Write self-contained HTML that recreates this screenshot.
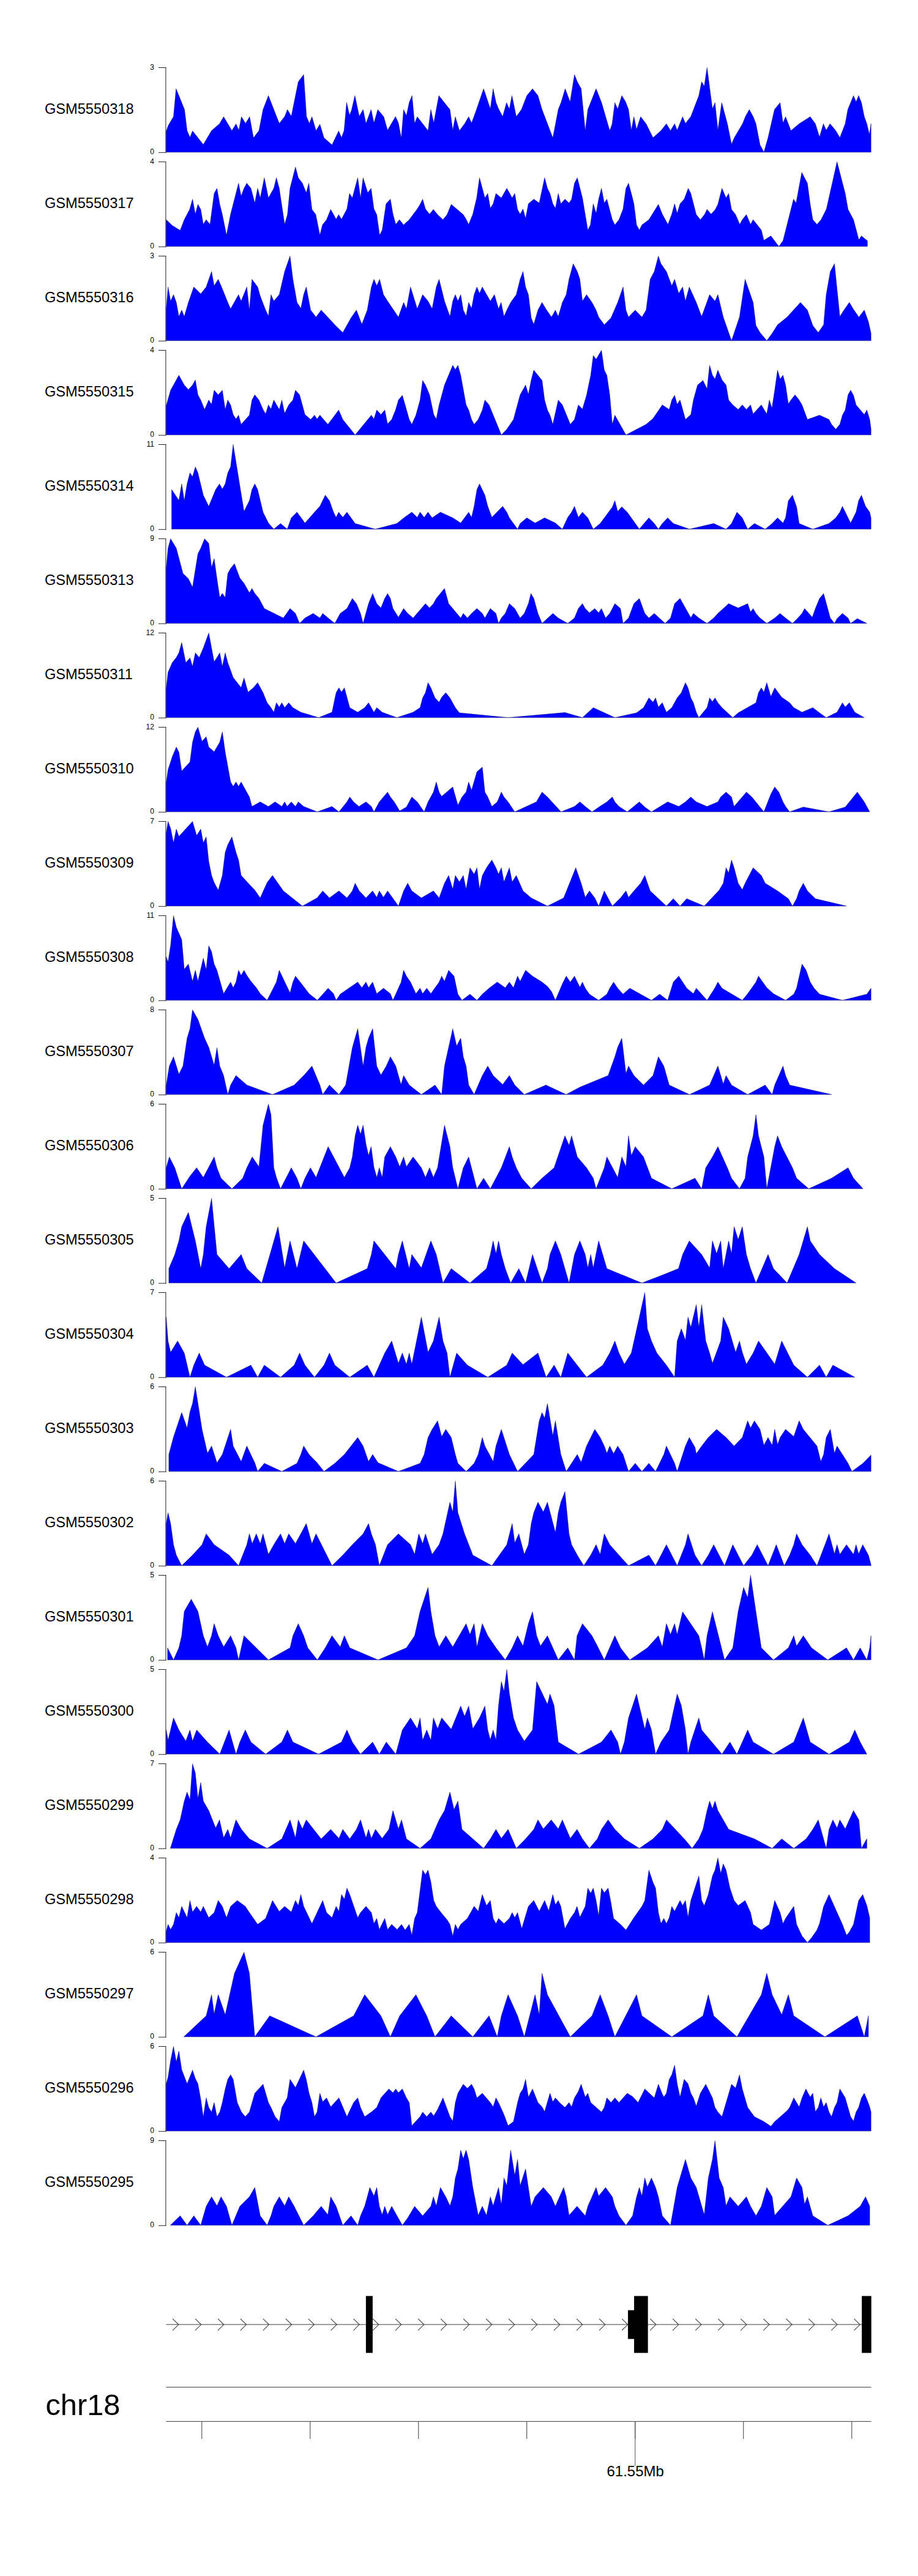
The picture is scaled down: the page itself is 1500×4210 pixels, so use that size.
<!DOCTYPE html><html><head><meta charset="utf-8"><style>html,body{margin:0;padding:0;background:#fff}svg{display:block}text{font-family:"Liberation Sans",sans-serif;fill:#000}</style></head><body>
<svg width="1500" height="4210" viewBox="0 0 1500 4210">
<rect width="1500" height="4210" fill="#fff"/>
<path d="M271.6 248.8 L271.6 214.4 L275.0 205.1 L283.5 190.4 L287.7 145.0 L301.5 179.1 L305.7 213.5 L310.4 224.5 L314.6 213.9 L332.2 236.2 L345.7 213.5 L358.7 202.2 L365.4 190.8 L378.9 213.5 L385.6 202.6 L390.3 212.7 L394.5 190.8 L401.2 201.8 L407.9 190.8 L414.2 225.3 L423.1 213.5 L429.8 179.1 L438.6 156.3 L456.3 201.8 L465.1 190.4 L469.7 179.1 L476.0 190.0 L487.4 133.6 L496.2 121.9 L500.8 190.4 L505.5 201.8 L509.7 190.8 L516.4 213.5 L522.7 203.0 L529.4 225.3 L542.5 236.7 L553.4 213.9 L558.0 224.9 L562.2 213.5 L566.4 167.3 L571.1 188.3 L574.4 179.9 L579.9 156.3 L587.0 190.0 L593.3 179.1 L598.0 201.8 L606.4 179.1 L611.0 200.9 L617.3 179.1 L627.0 190.8 L633.3 212.7 L646.3 190.4 L651.0 200.9 L655.7 225.3 L659.5 179.1 L664.1 189.1 L668.7 167.3 L673.3 156.3 L677.5 201.8 L681.8 190.8 L699.4 213.5 L704.0 179.1 L708.7 200.9 L717.1 156.3 L735.2 179.1 L739.8 212.7 L744.0 190.8 L750.7 213.5 L759.1 202.2 L765.8 190.8 L770.5 200.9 L776.8 184.1 L790.2 145.0 L801.2 177.8 L805.8 145.0 L810.4 167.3 L814.6 177.8 L821.4 190.4 L827.7 167.7 L832.3 178.2 L836.5 156.3 L843.6 190.4 L852.0 179.1 L860.9 156.3 L870.1 145.0 L879.0 156.3 L885.7 179.1 L903.3 225.3 L912.2 179.1 L916.8 167.3 L923.5 145.0 L931.5 166.4 L938.7 121.9 L943.3 133.6 L949.6 145.0 L956.3 213.5 L960.5 179.1 L974.0 145.0 L982.8 167.3 L996.3 213.5 L1000.1 203.0 L1004.7 167.7 L1009.3 178.2 L1016.0 156.3 L1022.3 166.4 L1027.0 179.1 L1031.6 212.7 L1035.8 190.8 L1040.1 211.4 L1046.8 190.8 L1055.7 202.2 L1067.0 224.9 L1080.0 213.5 L1088.9 202.2 L1095.6 213.5 L1102.3 202.2 L1106.5 212.7 L1115.4 190.8 L1120.0 201.8 L1128.8 190.4 L1141.9 156.3 L1146.5 133.6 L1150.7 141.2 L1155.3 110.5 L1164.1 177.8 L1168.3 167.7 L1173.0 212.7 L1179.3 167.7 L1188.5 202.2 L1195.3 235.4 L1199.9 224.9 L1213.3 202.2 L1218.0 190.4 L1224.3 179.1 L1230.6 190.4 L1235.2 202.2 L1241.9 236.7 L1248.2 248.8 L1255.0 224.9 L1265.5 179.1 L1274.7 167.7 L1279.4 200.9 L1283.6 190.8 L1292.4 213.5 L1305.8 202.2 L1323.9 190.8 L1332.3 202.2 L1339.1 224.0 L1345.4 202.2 L1350.0 212.7 L1356.3 202.2 L1365.6 213.5 L1372.3 224.9 L1381.1 202.2 L1385.3 179.1 L1394.6 156.3 L1398.8 166.4 L1403.0 156.3 L1407.6 167.7 L1412.2 190.4 L1416.4 202.2 L1420.6 219.8 L1423.2 202.2 L1423.2 248.8 Z" fill="#0000ff" stroke="#000050" stroke-width="0.45" stroke-linejoin="miter"/>
<path d="M270.9 110.0 V249.8" fill="none" stroke="#000" stroke-width="0.9"/><path d="M258.9 110.5 H271.35 M258.9 249.3 H271.35" fill="none" stroke="#262626" stroke-width="1"/>
<text x="251.9" y="114.0" font-size="12" text-anchor="end">3</text>
<text x="251.9" y="251.9" font-size="12" text-anchor="end">0</text>
<text x="73" y="185.8" font-size="23.6">GSM5550318</text>
<path d="M271.6 402.8 L271.6 359.1 L281.4 368.4 L294.4 376.4 L301.1 359.1 L309.9 342.3 L314.6 325.5 L319.2 349.9 L323.4 333.9 L328.0 342.3 L332.2 366.7 L336.9 359.1 L343.2 366.7 L349.9 316.2 L354.5 307.8 L359.1 333.9 L363.3 350.7 L370.1 384.3 L376.8 349.9 L389.8 299.4 L394.0 320.4 L398.7 307.8 L403.3 299.4 L410.0 307.8 L416.3 331.8 L421.0 307.8 L425.2 323.4 L431.9 290.6 L438.6 323.4 L447.4 307.8 L451.6 290.6 L456.3 307.8 L465.1 366.7 L469.7 350.7 L473.9 307.8 L482.8 272.9 L487.4 290.6 L494.1 299.4 L500.4 315.0 L504.6 299.4 L509.7 342.3 L516.0 350.7 L522.7 384.3 L526.9 367.5 L533.6 359.1 L540.4 342.3 L549.2 358.3 L553.4 350.7 L558.0 358.3 L566.9 341.5 L571.1 316.2 L575.7 323.4 L584.5 290.6 L589.1 323.4 L593.3 290.6 L600.9 315.0 L606.4 307.8 L611.0 341.5 L615.6 350.7 L620.3 384.3 L624.5 375.9 L630.8 333.1 L637.9 325.5 L642.1 349.9 L646.7 366.7 L652.6 359.1 L659.5 367.5 L668.7 359.1 L681.8 341.5 L686.4 333.9 L690.6 325.5 L695.2 341.5 L701.9 349.9 L708.2 342.3 L715.0 350.7 L723.8 359.1 L730.5 350.7 L737.3 333.9 L757.0 350.7 L761.6 358.3 L765.8 366.7 L772.6 349.9 L778.9 323.4 L783.5 290.6 L792.3 323.4 L797.0 316.2 L801.2 340.2 L805.8 333.1 L810.4 316.2 L819.2 323.4 L828.1 307.8 L832.3 315.0 L836.9 323.4 L841.1 316.2 L845.7 342.3 L849.9 349.9 L854.6 341.5 L858.8 357.0 L863.4 333.1 L872.2 325.5 L881.1 331.8 L889.9 290.6 L894.5 307.8 L898.7 316.2 L903.3 333.1 L907.5 340.2 L912.2 316.2 L916.4 333.1 L923.1 325.5 L929.8 331.8 L934.0 325.5 L938.7 299.4 L943.3 290.6 L951.7 323.4 L960.5 375.9 L964.7 367.5 L969.4 333.1 L974.0 348.6 L978.2 325.5 L982.8 307.8 L987.4 331.8 L991.6 325.5 L1000.5 359.1 L1004.7 367.5 L1011.4 359.1 L1018.1 341.5 L1022.8 307.8 L1027.0 299.4 L1031.6 316.2 L1035.8 333.1 L1040.1 367.5 L1044.7 375.9 L1048.9 367.5 L1060.3 359.1 L1075.8 333.9 L1082.2 349.9 L1091.4 366.7 L1097.7 349.9 L1102.3 333.1 L1106.5 348.6 L1111.2 333.1 L1117.9 325.5 L1124.6 307.8 L1128.8 316.2 L1137.7 350.7 L1144.4 359.1 L1151.1 350.7 L1155.3 342.3 L1162.0 349.9 L1168.8 342.3 L1173.0 333.9 L1179.7 307.8 L1186.4 323.4 L1190.6 316.2 L1195.3 342.3 L1202.0 350.7 L1208.7 366.7 L1212.9 359.1 L1219.6 350.7 L1226.4 366.7 L1230.6 359.1 L1244.0 375.9 L1248.2 392.8 L1259.6 385.6 L1272.6 402.8 L1279.4 393.6 L1296.6 325.5 L1300.8 331.8 L1310.1 281.8 L1319.3 299.4 L1323.9 333.9 L1328.1 359.1 L1334.9 366.7 L1341.6 359.1 L1350.4 341.5 L1367.7 264.5 L1381.1 316.2 L1385.7 342.3 L1394.6 359.1 L1403.4 391.9 L1407.6 385.6 L1417.3 393.6 L1417.3 402.8 Z" fill="#0000ff" stroke="#000050" stroke-width="0.45" stroke-linejoin="miter"/>
<path d="M270.9 264.0 V403.8" fill="none" stroke="#000" stroke-width="0.9"/><path d="M258.9 264.5 H271.35 M258.9 403.3 H271.35" fill="none" stroke="#262626" stroke-width="1"/>
<text x="251.9" y="268.0" font-size="12" text-anchor="end">4</text>
<text x="251.9" y="405.9" font-size="12" text-anchor="end">0</text>
<text x="73" y="339.8" font-size="23.6">GSM5550317</text>
<path d="M271.6 556.8 L271.6 505.6 L274.6 469.0 L278.8 492.1 L283.5 481.6 L288.1 494.2 L292.3 517.3 L296.9 506.8 L301.1 517.3 L307.8 494.2 L316.7 469.0 L328.0 480.3 L336.9 469.0 L345.7 443.7 L349.9 466.9 L356.6 456.4 L361.2 466.9 L368.0 483.7 L372.2 494.2 L376.8 504.7 L389.8 481.6 L394.0 492.1 L403.3 469.0 L407.5 506.8 L411.7 456.4 L421.0 469.0 L425.2 483.7 L434.0 506.8 L438.6 516.5 L442.8 481.6 L447.4 492.1 L456.3 481.6 L465.1 443.7 L473.9 418.5 L478.6 456.4 L485.3 494.2 L491.6 503.9 L496.2 481.6 L500.4 469.0 L507.6 506.8 L516.4 518.2 L524.8 506.8 L549.2 532.9 L560.1 543.4 L573.6 519.4 L582.4 506.8 L591.2 529.9 L600.1 506.8 L606.8 469.0 L611.0 456.4 L615.6 466.9 L620.3 456.4 L626.6 481.6 L633.3 492.1 L651.0 518.2 L659.5 494.2 L664.1 504.7 L670.8 469.0 L681.8 504.7 L690.6 481.6 L699.4 492.1 L706.1 504.7 L712.9 469.0 L717.5 456.4 L726.3 492.1 L735.2 517.3 L739.8 492.1 L744.0 481.6 L748.2 492.1 L752.8 481.6 L757.0 506.8 L761.6 516.5 L765.8 494.2 L770.5 503.9 L774.7 481.6 L779.3 469.0 L783.5 479.5 L788.1 469.0 L801.2 492.1 L807.9 481.6 L814.6 504.7 L818.8 494.2 L823.5 517.3 L828.1 506.8 L834.4 494.2 L843.6 481.6 L849.9 456.4 L854.6 443.7 L858.8 469.0 L863.4 481.6 L868.0 519.4 L872.2 529.9 L879.0 506.8 L885.7 494.2 L892.4 505.6 L901.2 518.2 L907.5 506.8 L912.2 517.3 L918.9 494.2 L925.2 481.6 L929.8 456.4 L936.6 431.1 L943.3 443.7 L947.5 456.4 L951.7 492.1 L958.4 481.6 L967.3 494.2 L974.0 506.8 L978.2 518.2 L987.4 530.8 L998.4 519.4 L1009.3 494.2 L1018.1 469.0 L1022.8 506.8 L1027.0 518.2 L1037.9 506.8 L1048.9 518.2 L1055.7 506.8 L1062.4 456.4 L1069.1 443.7 L1075.8 418.5 L1080.0 431.1 L1088.9 443.7 L1097.7 466.9 L1102.3 456.4 L1109.1 479.5 L1115.4 469.0 L1120.0 492.1 L1126.3 469.0 L1137.7 494.2 L1146.5 517.3 L1159.5 481.6 L1168.3 492.1 L1173.0 481.6 L1181.8 518.2 L1195.3 556.8 L1208.3 518.2 L1217.5 456.4 L1230.6 494.2 L1235.2 532.0 L1241.9 543.4 L1252.9 556.8 L1261.7 544.7 L1270.5 530.8 L1286.1 518.2 L1307.9 494.2 L1319.3 506.8 L1328.1 532.0 L1337.0 543.4 L1345.8 530.8 L1350.0 481.6 L1356.7 443.7 L1363.5 431.1 L1372.3 517.3 L1379.0 506.8 L1387.8 494.2 L1394.6 505.6 L1403.4 518.2 L1412.2 506.8 L1419.0 525.7 L1423.2 544.7 L1423.2 556.8 Z" fill="#0000ff" stroke="#000050" stroke-width="0.45" stroke-linejoin="miter"/>
<path d="M270.9 418.0 V557.8" fill="none" stroke="#000" stroke-width="0.9"/><path d="M258.9 418.5 H271.35 M258.9 557.3 H271.35" fill="none" stroke="#262626" stroke-width="1"/>
<text x="251.9" y="422.0" font-size="12" text-anchor="end">3</text>
<text x="251.9" y="559.9" font-size="12" text-anchor="end">0</text>
<text x="73" y="493.8" font-size="23.6">GSM5550316</text>
<path d="M271.6 710.8 L271.6 662.9 L278.8 637.7 L292.3 613.3 L301.1 629.3 L307.8 636.8 L314.6 629.3 L319.2 620.9 L323.4 645.3 L328.0 653.7 L334.3 669.2 L341.1 653.7 L345.7 660.8 L349.9 637.7 L356.6 645.3 L363.3 637.7 L368.0 669.2 L372.2 653.7 L376.8 661.7 L381.0 677.6 L385.6 684.8 L389.8 678.5 L394.0 693.6 L407.5 678.5 L411.7 653.7 L416.3 645.3 L423.1 653.7 L429.8 669.2 L434.0 676.4 L438.6 661.7 L442.8 668.4 L447.4 653.7 L456.3 669.2 L460.5 653.7 L465.1 675.5 L471.8 661.7 L478.6 653.7 L482.8 637.7 L489.5 645.3 L498.3 677.6 L507.6 685.6 L513.9 678.5 L518.1 684.8 L522.7 678.5 L535.7 693.6 L542.5 684.8 L553.4 670.1 L560.1 685.6 L580.3 710.8 L606.8 678.5 L611.0 684.8 L615.6 670.1 L622.4 677.6 L628.7 670.1 L633.3 692.8 L640.0 685.6 L646.3 670.1 L651.0 653.7 L657.4 646.1 L662.0 661.7 L668.7 685.6 L672.9 693.6 L679.6 678.5 L686.4 653.7 L690.6 621.7 L695.2 629.3 L701.9 645.3 L708.7 677.6 L712.9 684.8 L717.5 661.7 L726.3 629.3 L739.8 596.9 L744.0 604.0 L748.2 596.9 L752.8 613.3 L761.6 661.7 L765.8 670.1 L770.5 685.6 L774.7 693.6 L781.4 685.6 L788.1 670.1 L792.3 653.7 L799.1 661.7 L819.2 710.8 L828.1 701.6 L839.0 685.6 L849.9 645.3 L858.8 629.3 L863.4 644.4 L868.0 620.9 L872.2 604.9 L885.7 621.7 L889.9 653.7 L894.5 670.1 L898.7 678.5 L903.3 693.6 L912.2 653.7 L918.9 661.7 L931.9 693.6 L938.7 685.6 L945.0 661.7 L951.7 668.4 L958.4 646.1 L965.2 613.3 L969.4 580.9 L974.0 587.2 L982.8 572.5 L987.4 604.9 L991.6 613.3 L996.3 645.3 L1000.5 693.6 L1004.7 678.5 L1022.8 710.8 L1055.7 693.6 L1067.0 683.9 L1082.2 661.7 L1093.5 669.2 L1097.7 653.7 L1102.3 646.1 L1106.5 660.8 L1111.2 653.7 L1120.0 685.6 L1128.8 677.6 L1133.0 653.7 L1139.8 629.3 L1148.6 621.7 L1155.3 635.6 L1159.5 596.9 L1164.1 613.3 L1168.3 619.6 L1173.0 604.9 L1179.7 620.9 L1186.4 629.3 L1190.6 653.7 L1197.4 661.7 L1206.2 669.2 L1212.9 661.7 L1219.6 669.2 L1226.4 661.7 L1230.6 676.4 L1244.0 661.7 L1252.9 676.4 L1257.1 653.7 L1261.3 667.1 L1265.9 637.7 L1270.5 604.9 L1274.7 619.6 L1279.4 613.3 L1283.6 629.3 L1288.2 660.0 L1292.4 653.7 L1299.1 645.3 L1305.8 653.7 L1310.5 661.7 L1319.3 685.6 L1339.1 678.5 L1354.6 685.6 L1358.8 693.6 L1365.6 701.6 L1372.3 693.6 L1376.5 678.5 L1381.1 670.1 L1385.7 645.3 L1389.9 637.7 L1394.6 646.1 L1398.8 661.7 L1412.2 677.6 L1416.4 670.1 L1421.1 685.6 L1423.2 700.8 L1423.2 710.8 Z" fill="#0000ff" stroke="#000050" stroke-width="0.45" stroke-linejoin="miter"/>
<path d="M270.9 572.0 V711.8" fill="none" stroke="#000" stroke-width="0.9"/><path d="M258.9 572.5 H271.35 M258.9 711.3 H271.35" fill="none" stroke="#262626" stroke-width="1"/>
<text x="251.9" y="576.0" font-size="12" text-anchor="end">4</text>
<text x="251.9" y="713.9" font-size="12" text-anchor="end">0</text>
<text x="73" y="647.8" font-size="23.6">GSM5550315</text>
<path d="M280.5 864.8 L280.5 800.1 L292.3 817.8 L296.9 790.8 L301.1 818.2 L305.7 790.8 L310.4 772.8 L314.6 779.1 L319.2 763.1 L323.4 772.8 L332.2 809.3 L341.1 827.4 L352.4 800.1 L358.7 790.8 L363.3 799.3 L368.0 790.8 L372.2 772.8 L376.8 763.1 L381.0 726.5 L398.7 835.8 L407.5 818.2 L411.7 800.1 L416.3 790.8 L421.0 800.1 L429.8 837.1 L438.6 854.8 L447.4 864.8 L458.4 855.6 L469.3 864.8 L476.0 846.3 L485.3 837.1 L498.3 854.8 L513.9 837.1 L522.7 827.4 L531.5 809.3 L538.3 818.2 L545.0 837.1 L549.2 845.5 L553.4 837.1 L560.1 845.5 L566.9 837.1 L580.3 855.6 L613.1 864.8 L648.4 855.6 L662.0 844.7 L672.9 837.1 L681.8 845.5 L686.4 837.1 L693.1 845.5 L699.4 837.1 L706.1 846.3 L719.6 837.1 L739.8 846.3 L752.8 854.8 L765.8 837.1 L770.5 845.5 L774.7 827.4 L779.3 800.1 L783.5 790.8 L792.3 809.3 L797.0 827.4 L803.7 845.5 L821.4 827.4 L828.1 837.1 L832.3 846.3 L845.7 864.8 L849.9 855.6 L860.9 846.3 L874.3 854.8 L889.9 846.3 L907.5 854.8 L918.9 864.8 L927.7 845.5 L934.0 837.1 L938.7 827.4 L945.0 845.5 L951.7 837.1 L960.5 846.3 L969.4 864.8 L980.7 855.6 L1000.5 828.7 L1004.7 818.2 L1009.3 835.8 L1016.0 828.3 L1024.9 837.1 L1044.7 864.8 L1053.6 853.9 L1060.3 846.3 L1069.1 855.6 L1075.8 864.8 L1082.2 855.6 L1091.0 846.3 L1100.2 855.6 L1126.7 864.8 L1166.2 855.6 L1186.4 864.8 L1195.3 855.6 L1204.1 837.1 L1212.9 846.3 L1221.7 864.8 L1232.7 855.6 L1250.3 864.8 L1261.7 855.6 L1270.5 846.3 L1279.4 854.8 L1283.6 846.3 L1288.2 818.2 L1294.9 809.3 L1301.6 828.3 L1305.8 855.6 L1328.1 864.8 L1354.6 855.6 L1365.6 846.3 L1372.3 837.1 L1376.5 827.4 L1389.9 854.8 L1398.8 837.1 L1403.0 818.2 L1407.6 809.3 L1414.3 827.4 L1421.1 837.1 L1423.2 846.3 L1423.2 864.8 Z" fill="#0000ff" stroke="#000050" stroke-width="0.45" stroke-linejoin="miter"/>
<path d="M270.9 726.0 V865.8" fill="none" stroke="#000" stroke-width="0.9"/><path d="M258.9 726.5 H271.35 M258.9 865.3 H271.35" fill="none" stroke="#262626" stroke-width="1"/>
<text x="251.9" y="730.0" font-size="12" text-anchor="end">11</text>
<text x="251.9" y="867.9" font-size="12" text-anchor="end">0</text>
<text x="73" y="801.8" font-size="23.6">GSM5550314</text>
<path d="M271.6 1018.8 L271.6 928.9 L274.6 896.1 L278.8 880.5 L288.1 896.1 L299.0 937.3 L307.8 945.7 L314.6 959.6 L323.4 904.9 L328.0 896.1 L334.3 880.5 L341.1 888.1 L345.7 927.6 L349.9 912.9 L354.5 945.7 L359.1 976.4 L363.3 969.7 L368.0 976.4 L372.2 937.3 L376.8 928.9 L383.1 921.3 L391.9 944.8 L398.7 953.3 L407.5 968.8 L411.7 961.7 L416.3 969.7 L423.1 978.1 L431.9 994.5 L463.0 1010.0 L473.9 994.5 L482.8 1002.5 L489.5 1018.8 L498.3 1010.0 L511.8 1002.5 L522.7 1010.0 L527.3 1002.5 L536.2 1010.0 L547.1 1018.8 L555.9 1002.5 L566.9 994.5 L575.7 978.1 L582.4 986.5 L589.1 1002.5 L593.3 1018.8 L602.2 986.5 L608.9 970.1 L615.6 986.5 L622.4 993.6 L628.7 978.1 L633.3 970.1 L637.9 978.1 L642.1 994.5 L651.0 1008.8 L659.5 994.5 L666.2 1002.5 L675.0 1010.0 L695.2 986.5 L701.9 993.6 L708.2 986.5 L712.9 978.1 L726.3 961.7 L733.1 986.5 L752.8 1010.0 L757.0 1002.5 L763.7 1010.0 L770.5 1002.5 L779.3 994.5 L788.1 1002.5 L792.3 1010.0 L801.2 994.5 L810.4 1002.5 L814.6 1018.8 L819.2 1010.0 L825.6 1002.5 L832.3 986.5 L841.1 994.5 L849.9 1010.0 L856.7 1002.5 L863.4 986.5 L867.6 970.1 L872.2 978.1 L879.0 1002.5 L885.7 1018.8 L903.3 1002.5 L912.2 1010.0 L927.7 1018.8 L938.7 1010.0 L945.0 994.5 L951.7 986.5 L956.3 994.5 L963.1 1001.6 L971.9 994.5 L978.2 1001.6 L982.8 994.5 L989.5 1010.0 L996.3 1002.5 L1004.7 986.5 L1013.9 994.5 L1018.1 1018.8 L1027.0 1010.0 L1035.8 986.5 L1044.7 978.1 L1053.6 1002.5 L1060.3 1010.0 L1069.1 1002.5 L1086.8 1018.8 L1095.6 1010.0 L1102.3 986.5 L1111.2 978.1 L1128.8 1009.6 L1133.0 1002.5 L1141.9 1010.0 L1155.3 1018.8 L1166.2 1010.0 L1173.0 1002.5 L1190.6 986.5 L1206.2 993.6 L1221.7 986.5 L1226.4 1000.3 L1230.6 994.5 L1235.2 1002.5 L1241.9 1010.0 L1252.9 1018.8 L1265.9 1010.0 L1274.7 1002.5 L1283.6 1010.0 L1294.9 1018.8 L1303.7 1010.0 L1310.5 1002.5 L1314.7 994.5 L1327.3 1008.8 L1332.3 994.5 L1339.1 978.1 L1345.8 970.1 L1356.7 1010.0 L1363.5 1018.8 L1367.7 1010.9 L1376.5 1002.5 L1385.7 1010.0 L1389.9 1018.8 L1400.9 1010.9 L1416.4 1018.8 L1416.4 1018.8 Z" fill="#0000ff" stroke="#000050" stroke-width="0.45" stroke-linejoin="miter"/>
<path d="M270.9 880.0 V1019.8" fill="none" stroke="#000" stroke-width="0.9"/><path d="M258.9 880.5 H271.35 M258.9 1019.3 H271.35" fill="none" stroke="#262626" stroke-width="1"/>
<text x="251.9" y="884.0" font-size="12" text-anchor="end">9</text>
<text x="251.9" y="1021.9" font-size="12" text-anchor="end">0</text>
<text x="73" y="955.8" font-size="23.6">GSM5550313</text>
<path d="M271.6 1172.8 L271.6 1124.9 L274.6 1098.8 L281.4 1082.9 L288.1 1074.5 L292.3 1066.9 L296.9 1050.1 L303.6 1082.9 L310.4 1075.3 L314.6 1089.2 L319.2 1066.9 L325.5 1074.5 L332.2 1058.9 L341.1 1034.5 L349.9 1081.6 L354.5 1074.5 L359.1 1066.9 L363.3 1089.2 L368.0 1066.9 L372.2 1082.9 L376.8 1095.5 L381.0 1107.3 L394.0 1123.7 L398.7 1108.1 L405.4 1131.2 L414.2 1123.7 L421.0 1115.7 L429.8 1132.1 L436.5 1148.5 L442.8 1156.5 L447.4 1164.0 L451.6 1148.5 L456.3 1155.6 L460.5 1148.5 L465.1 1156.5 L471.8 1148.5 L478.6 1156.5 L491.6 1164.0 L520.6 1172.8 L542.5 1164.0 L549.2 1132.1 L553.8 1124.1 L558.0 1131.2 L562.7 1124.1 L571.5 1156.5 L584.5 1164.0 L595.9 1156.5 L602.2 1148.5 L611.0 1164.0 L615.6 1156.5 L624.5 1164.0 L648.4 1172.8 L675.0 1164.0 L686.4 1156.5 L690.6 1140.5 L695.2 1132.1 L699.4 1115.7 L704.0 1124.1 L710.8 1140.5 L717.5 1147.6 L721.7 1139.6 L728.4 1132.1 L735.2 1140.5 L744.0 1156.5 L750.7 1164.9 L830.2 1172.8 L923.1 1164.4 L951.7 1172.8 L969.4 1156.5 L1004.7 1172.8 L1040.1 1164.9 L1051.5 1156.5 L1060.3 1140.5 L1067.0 1147.6 L1071.2 1140.5 L1075.8 1155.6 L1082.2 1148.5 L1088.9 1164.0 L1097.7 1156.5 L1106.5 1140.5 L1113.3 1132.1 L1120.0 1115.7 L1124.2 1124.1 L1128.8 1140.5 L1133.0 1148.5 L1137.7 1164.0 L1141.9 1172.8 L1155.3 1156.5 L1159.5 1140.5 L1164.1 1146.8 L1168.3 1140.5 L1173.0 1148.5 L1179.7 1156.5 L1197.4 1172.8 L1206.2 1164.9 L1235.2 1148.5 L1239.4 1132.1 L1244.0 1124.1 L1248.2 1131.2 L1252.9 1115.7 L1259.6 1138.4 L1265.9 1124.1 L1277.3 1139.6 L1290.3 1148.5 L1297.0 1156.5 L1310.5 1164.0 L1328.1 1156.5 L1339.1 1164.9 L1350.0 1172.8 L1367.7 1164.0 L1376.5 1148.5 L1381.1 1155.6 L1387.8 1148.5 L1396.7 1164.0 L1412.2 1172.8 L1412.2 1172.8 Z" fill="#0000ff" stroke="#000050" stroke-width="0.45" stroke-linejoin="miter"/>
<path d="M270.9 1034.0 V1173.8" fill="none" stroke="#000" stroke-width="0.9"/><path d="M258.9 1034.5 H271.35 M258.9 1173.3 H271.35" fill="none" stroke="#262626" stroke-width="1"/>
<text x="251.9" y="1038.0" font-size="12" text-anchor="end">12</text>
<text x="251.9" y="1175.9" font-size="12" text-anchor="end">0</text>
<text x="73" y="1109.8" font-size="23.6">GSM5550311</text>
<path d="M271.6 1326.8 L271.6 1278.9 L274.6 1257.9 L281.4 1236.9 L288.1 1220.9 L292.3 1229.3 L296.9 1260.0 L310.4 1245.3 L314.6 1212.9 L319.2 1196.1 L323.4 1188.5 L330.1 1211.6 L336.9 1204.1 L341.1 1220.9 L349.9 1228.5 L359.1 1212.9 L363.3 1196.1 L368.0 1229.3 L376.8 1277.7 L381.0 1285.2 L385.6 1278.1 L389.8 1285.2 L394.0 1278.1 L407.5 1302.5 L411.7 1318.0 L425.2 1310.5 L438.6 1318.0 L449.5 1310.5 L460.5 1318.0 L465.1 1310.5 L469.3 1318.0 L476.0 1310.5 L482.8 1318.0 L487.4 1310.5 L496.2 1318.0 L518.5 1326.8 L542.5 1318.0 L553.8 1326.8 L566.9 1310.5 L571.5 1302.5 L577.8 1310.5 L586.6 1318.0 L598.0 1310.5 L606.8 1318.0 L611.0 1326.8 L619.8 1310.5 L633.3 1294.5 L637.9 1302.5 L644.2 1310.5 L653.1 1325.2 L664.1 1318.9 L672.9 1302.5 L681.8 1310.5 L693.1 1326.8 L699.4 1310.5 L708.2 1294.5 L712.9 1278.1 L717.5 1294.5 L721.7 1301.6 L739.8 1286.1 L748.2 1315.9 L754.9 1302.5 L761.6 1294.5 L765.8 1278.1 L770.5 1291.5 L779.3 1261.3 L788.1 1253.7 L792.3 1294.5 L797.0 1302.5 L803.7 1318.0 L812.5 1310.5 L819.2 1294.5 L823.5 1302.5 L830.2 1310.5 L841.1 1326.8 L876.4 1310.5 L885.7 1294.5 L894.5 1302.5 L916.8 1326.8 L938.7 1318.0 L947.5 1310.5 L956.3 1318.0 L967.3 1326.8 L980.7 1317.6 L991.6 1310.5 L1000.5 1302.5 L1004.7 1310.5 L1011.4 1318.0 L1024.9 1326.8 L1044.7 1310.5 L1053.6 1318.9 L1064.5 1326.8 L1091.0 1310.5 L1109.1 1318.0 L1120.0 1310.5 L1128.8 1302.5 L1137.7 1310.5 L1155.3 1318.0 L1173.0 1310.5 L1177.6 1302.5 L1186.4 1294.5 L1195.3 1302.5 L1199.5 1318.0 L1219.6 1294.5 L1228.5 1302.5 L1248.2 1326.8 L1259.6 1297.8 L1265.9 1286.1 L1272.6 1294.5 L1279.4 1310.5 L1283.6 1318.0 L1290.3 1326.8 L1312.6 1318.9 L1354.6 1326.8 L1381.1 1318.9 L1400.9 1294.5 L1412.2 1310.5 L1421.1 1326.8 L1421.1 1326.8 Z" fill="#0000ff" stroke="#000050" stroke-width="0.45" stroke-linejoin="miter"/>
<path d="M270.9 1188.0 V1327.8" fill="none" stroke="#000" stroke-width="0.9"/><path d="M258.9 1188.5 H271.35 M258.9 1327.3 H271.35" fill="none" stroke="#262626" stroke-width="1"/>
<text x="251.9" y="1192.0" font-size="12" text-anchor="end">12</text>
<text x="251.9" y="1329.9" font-size="12" text-anchor="end">0</text>
<text x="73" y="1263.8" font-size="23.6">GSM5550310</text>
<path d="M271.6 1480.8 L271.6 1361.4 L274.6 1342.5 L278.8 1353.9 L283.5 1377.4 L288.1 1355.1 L292.3 1366.9 L314.6 1342.5 L321.3 1365.6 L328.0 1355.1 L332.2 1377.4 L336.9 1367.7 L341.1 1407.7 L345.7 1430.8 L349.9 1442.2 L356.6 1454.8 L363.3 1430.8 L368.0 1393.0 L372.2 1380.4 L378.9 1367.7 L385.6 1393.0 L389.8 1405.6 L394.0 1430.8 L416.3 1454.8 L425.2 1467.4 L436.5 1442.2 L445.3 1430.8 L463.0 1456.0 L494.1 1480.8 L518.1 1467.4 L527.3 1456.0 L538.3 1467.4 L553.8 1456.0 L566.9 1467.4 L575.7 1456.0 L580.3 1443.4 L587.0 1456.0 L598.0 1467.4 L608.9 1456.0 L615.6 1466.6 L619.8 1456.0 L626.6 1466.6 L633.3 1456.0 L651.0 1480.8 L659.5 1456.0 L666.2 1443.4 L672.9 1456.0 L688.5 1467.4 L708.2 1456.0 L717.5 1467.4 L726.3 1443.4 L733.1 1430.8 L739.8 1453.1 L744.0 1430.8 L750.7 1441.3 L757.0 1430.8 L761.6 1453.1 L767.9 1418.2 L774.7 1428.7 L779.3 1418.2 L783.5 1453.1 L788.1 1430.8 L794.9 1418.2 L803.7 1405.6 L810.4 1418.2 L814.6 1428.7 L819.2 1418.2 L823.5 1441.3 L832.3 1418.2 L836.9 1441.3 L843.6 1430.8 L854.6 1456.0 L868.0 1467.4 L894.5 1480.8 L921.0 1467.4 L940.8 1418.2 L949.6 1443.4 L956.3 1466.6 L963.1 1456.0 L971.9 1467.4 L978.2 1480.8 L987.4 1456.0 L1000.5 1480.8 L1013.9 1467.4 L1022.8 1456.0 L1027.0 1466.6 L1035.8 1456.0 L1046.8 1443.4 L1053.6 1430.8 L1062.4 1456.0 L1088.9 1480.8 L1100.2 1468.7 L1111.2 1480.8 L1122.1 1468.7 L1150.7 1480.8 L1175.1 1454.8 L1181.8 1443.4 L1186.4 1418.2 L1190.6 1426.6 L1195.3 1405.6 L1199.5 1418.2 L1206.2 1443.4 L1212.9 1453.9 L1217.5 1443.4 L1230.6 1418.2 L1244.0 1430.8 L1250.3 1443.4 L1270.5 1456.0 L1288.2 1468.7 L1294.9 1480.8 L1301.6 1468.7 L1305.8 1456.0 L1312.6 1443.4 L1319.3 1456.0 L1332.3 1468.7 L1383.2 1480.8 L1383.2 1480.8 Z" fill="#0000ff" stroke="#000050" stroke-width="0.45" stroke-linejoin="miter"/>
<path d="M270.9 1342.0 V1481.8" fill="none" stroke="#000" stroke-width="0.9"/><path d="M258.9 1342.5 H271.35 M258.9 1481.3 H271.35" fill="none" stroke="#262626" stroke-width="1"/>
<text x="251.9" y="1346.0" font-size="12" text-anchor="end">7</text>
<text x="251.9" y="1483.9" font-size="12" text-anchor="end">0</text>
<text x="73" y="1417.8" font-size="23.6">GSM5550309</text>
<path d="M271.6 1634.8 L271.6 1563.8 L274.6 1572.2 L278.8 1544.9 L283.5 1496.5 L288.1 1515.4 L296.9 1535.6 L301.1 1584.0 L307.8 1575.6 L314.6 1603.7 L319.2 1585.7 L323.4 1603.7 L332.2 1565.9 L336.9 1584.8 L341.1 1545.7 L345.7 1555.4 L349.9 1575.6 L354.5 1585.7 L365.4 1623.9 L376.8 1605.0 L381.0 1614.2 L385.6 1605.0 L389.8 1585.7 L394.0 1594.1 L398.7 1585.7 L403.3 1594.1 L410.0 1603.7 L418.8 1614.2 L425.2 1623.9 L436.5 1634.8 L451.6 1605.0 L456.3 1585.7 L473.9 1622.7 L478.6 1605.0 L482.8 1595.3 L489.5 1603.7 L498.3 1615.1 L505.0 1623.9 L518.5 1634.8 L536.2 1615.1 L545.0 1623.9 L549.2 1634.8 L555.9 1624.8 L584.5 1605.0 L591.2 1614.2 L598.0 1605.0 L602.2 1614.2 L608.9 1605.0 L615.6 1623.9 L626.6 1615.1 L637.9 1623.9 L642.1 1634.8 L655.3 1605.4 L659.5 1585.7 L664.1 1595.3 L670.8 1605.0 L679.6 1623.9 L686.4 1615.1 L690.6 1623.9 L697.3 1615.1 L704.0 1623.9 L717.5 1605.0 L721.7 1595.3 L726.3 1603.7 L733.1 1585.7 L741.9 1595.3 L748.2 1624.8 L754.9 1634.8 L767.9 1624.8 L779.3 1634.8 L788.1 1624.8 L799.1 1615.1 L812.5 1605.0 L825.6 1614.2 L832.3 1605.0 L839.0 1614.2 L845.7 1595.3 L849.9 1603.7 L858.8 1585.7 L870.1 1595.3 L885.7 1605.0 L894.5 1612.1 L901.2 1620.6 L907.5 1634.8 L918.9 1607.9 L925.2 1595.3 L931.9 1605.0 L938.7 1595.3 L947.5 1613.4 L951.7 1605.0 L956.3 1615.1 L963.1 1624.8 L978.2 1634.8 L991.6 1624.8 L996.3 1615.1 L1002.6 1605.0 L1009.3 1615.1 L1018.1 1624.8 L1029.1 1615.1 L1064.5 1634.8 L1077.9 1624.8 L1091.0 1634.8 L1100.2 1605.0 L1109.1 1595.3 L1122.1 1615.1 L1133.0 1623.9 L1137.7 1615.1 L1155.3 1634.8 L1168.3 1614.2 L1173.0 1605.0 L1179.7 1615.1 L1212.9 1634.8 L1221.7 1623.9 L1235.2 1605.0 L1239.4 1595.3 L1252.9 1614.2 L1263.8 1623.9 L1283.6 1634.8 L1297.0 1624.8 L1301.6 1615.1 L1310.5 1575.6 L1317.2 1585.7 L1323.9 1605.0 L1330.2 1615.1 L1339.1 1624.8 L1376.5 1634.8 L1416.4 1624.8 L1423.2 1615.1 L1423.2 1634.8 Z" fill="#0000ff" stroke="#000050" stroke-width="0.45" stroke-linejoin="miter"/>
<path d="M270.9 1496.0 V1635.8" fill="none" stroke="#000" stroke-width="0.9"/><path d="M258.9 1496.5 H271.35 M258.9 1635.3 H271.35" fill="none" stroke="#262626" stroke-width="1"/>
<text x="251.9" y="1500.0" font-size="12" text-anchor="end">11</text>
<text x="251.9" y="1637.9" font-size="12" text-anchor="end">0</text>
<text x="73" y="1571.8" font-size="23.6">GSM5550308</text>
<path d="M271.6 1788.8 L271.6 1773.7 L276.7 1742.2 L283.5 1727.0 L292.3 1755.6 L299.0 1742.2 L305.7 1696.8 L310.4 1681.2 L314.6 1650.5 L323.4 1666.1 L334.3 1696.8 L341.1 1711.5 L349.9 1740.9 L354.5 1712.3 L359.1 1742.2 L365.4 1757.7 L372.2 1788.8 L376.8 1773.3 L385.6 1757.7 L403.3 1773.3 L445.3 1788.8 L480.7 1773.3 L498.3 1755.6 L509.7 1742.2 L522.7 1773.3 L527.3 1788.8 L538.3 1773.3 L553.8 1788.8 L564.8 1773.3 L575.7 1712.3 L584.5 1681.2 L593.3 1742.2 L598.0 1711.5 L602.2 1696.8 L608.9 1681.2 L615.6 1742.2 L622.4 1756.9 L631.2 1742.2 L637.9 1727.0 L646.7 1742.2 L651.0 1757.7 L655.3 1772.5 L659.5 1757.7 L668.7 1773.3 L688.5 1788.8 L710.8 1773.3 L721.7 1788.8 L726.3 1742.2 L739.8 1681.2 L746.1 1709.4 L752.8 1696.8 L757.0 1727.0 L761.6 1742.2 L765.8 1773.3 L774.7 1788.8 L788.1 1757.7 L797.0 1742.2 L805.8 1757.7 L821.4 1772.5 L832.3 1757.7 L841.1 1773.3 L856.7 1788.8 L892.0 1773.3 L925.2 1788.8 L947.5 1776.7 L993.7 1757.7 L1004.7 1727.0 L1009.3 1711.5 L1016.0 1696.8 L1022.8 1754.4 L1027.0 1742.2 L1035.8 1757.7 L1051.5 1773.3 L1067.0 1757.7 L1075.8 1727.0 L1084.7 1742.2 L1093.5 1773.3 L1126.7 1788.8 L1159.5 1773.3 L1173.0 1742.2 L1181.8 1771.6 L1186.4 1757.7 L1195.3 1773.3 L1221.7 1788.8 L1250.3 1773.3 L1261.7 1788.8 L1265.9 1773.3 L1279.4 1742.2 L1283.6 1757.7 L1290.3 1773.3 L1358.8 1788.8 L1358.8 1788.8 Z" fill="#0000ff" stroke="#000050" stroke-width="0.45" stroke-linejoin="miter"/>
<path d="M270.9 1650.0 V1789.8" fill="none" stroke="#000" stroke-width="0.9"/><path d="M258.9 1650.5 H271.35 M258.9 1789.3 H271.35" fill="none" stroke="#262626" stroke-width="1"/>
<text x="251.9" y="1654.0" font-size="12" text-anchor="end">8</text>
<text x="251.9" y="1791.9" font-size="12" text-anchor="end">0</text>
<text x="73" y="1725.8" font-size="23.6">GSM5550307</text>
<path d="M271.6 1942.8 L271.6 1908.4 L276.7 1890.7 L285.6 1908.4 L296.9 1942.8 L310.4 1922.2 L321.3 1908.4 L332.2 1924.3 L349.9 1890.7 L354.5 1908.4 L361.2 1925.6 L378.9 1942.8 L396.6 1925.6 L403.3 1908.4 L412.1 1890.7 L423.1 1906.7 L429.8 1839.0 L438.6 1804.5 L442.8 1821.8 L447.4 1908.4 L451.6 1924.3 L458.4 1942.8 L476.0 1908.4 L485.3 1925.6 L491.6 1942.8 L498.3 1925.6 L507.2 1908.4 L516.4 1924.3 L536.2 1873.9 L562.7 1924.3 L571.5 1908.4 L575.7 1890.7 L580.3 1856.2 L584.5 1839.0 L589.1 1853.7 L593.3 1839.0 L598.0 1869.7 L602.2 1888.6 L606.4 1873.9 L611.0 1907.5 L615.6 1924.3 L619.8 1908.4 L624.5 1924.3 L628.7 1890.7 L637.9 1873.9 L646.7 1890.7 L653.1 1906.7 L659.5 1890.7 L664.1 1906.7 L675.0 1890.7 L688.5 1908.4 L695.2 1924.3 L701.9 1908.4 L708.2 1924.3 L715.0 1908.4 L726.3 1839.0 L735.2 1873.9 L739.8 1908.4 L748.2 1942.8 L757.0 1908.4 L765.8 1890.7 L779.3 1942.8 L790.2 1925.6 L801.2 1942.8 L819.2 1908.4 L832.3 1873.9 L836.9 1890.7 L843.6 1908.4 L852.5 1925.6 L868.0 1942.8 L885.7 1925.6 L905.4 1908.4 L923.1 1856.2 L929.8 1871.8 L934.0 1856.2 L943.3 1890.7 L958.4 1908.4 L969.4 1925.6 L974.0 1942.8 L987.4 1908.4 L991.6 1890.7 L1009.3 1924.3 L1016.0 1890.7 L1022.8 1906.7 L1027.0 1856.2 L1031.6 1888.6 L1037.9 1873.9 L1051.5 1890.7 L1064.5 1925.6 L1097.7 1942.8 L1135.6 1925.6 L1146.5 1942.8 L1153.2 1908.4 L1164.1 1890.7 L1173.0 1873.9 L1188.5 1908.4 L1195.3 1925.6 L1208.3 1942.8 L1217.5 1925.6 L1221.7 1890.7 L1230.6 1856.2 L1235.2 1821.8 L1239.4 1856.2 L1248.2 1890.7 L1252.9 1942.8 L1265.9 1873.9 L1270.5 1856.2 L1277.3 1873.9 L1294.9 1908.4 L1301.6 1925.6 L1321.4 1942.8 L1358.8 1925.6 L1385.7 1908.4 L1394.6 1925.6 L1410.1 1942.8 L1410.1 1942.8 Z" fill="#0000ff" stroke="#000050" stroke-width="0.45" stroke-linejoin="miter"/>
<path d="M270.9 1804.0 V1943.8" fill="none" stroke="#000" stroke-width="0.9"/><path d="M258.9 1804.5 H271.35 M258.9 1943.3 H271.35" fill="none" stroke="#262626" stroke-width="1"/>
<text x="251.9" y="1808.0" font-size="12" text-anchor="end">6</text>
<text x="251.9" y="1945.9" font-size="12" text-anchor="end">0</text>
<text x="73" y="1879.8" font-size="23.6">GSM5550306</text>
<path d="M275.9 2096.8 L275.9 2073.3 L285.6 2050.2 L292.3 2027.9 L296.9 2004.8 L307.8 1981.6 L319.2 2027.9 L328.0 2073.3 L332.2 2050.2 L336.9 2004.8 L345.7 1958.5 L354.5 2050.2 L374.3 2073.3 L394.0 2050.2 L403.3 2073.3 L427.7 2096.8 L454.2 2004.8 L465.1 2072.0 L473.9 2027.9 L485.3 2073.3 L496.2 2027.9 L549.2 2096.8 L600.1 2073.3 L606.8 2050.2 L611.0 2027.9 L646.7 2073.3 L651.0 2050.2 L657.4 2027.9 L668.7 2073.3 L672.9 2050.2 L688.5 2072.0 L704.0 2027.9 L712.9 2050.2 L723.8 2096.8 L737.3 2073.3 L767.9 2096.8 L794.9 2073.3 L801.2 2050.2 L805.8 2027.9 L810.4 2048.9 L814.6 2027.9 L819.2 2050.2 L825.6 2073.3 L834.4 2096.8 L847.8 2073.3 L858.8 2096.8 L870.1 2050.2 L885.7 2096.8 L894.5 2073.3 L898.7 2050.2 L907.5 2027.9 L916.4 2050.2 L929.8 2096.8 L938.7 2050.2 L947.5 2027.9 L956.3 2050.2 L960.5 2072.0 L965.2 2050.2 L969.4 2072.0 L978.2 2027.9 L991.6 2073.3 L1048.9 2096.8 L1080.0 2084.7 L1108.6 2073.3 L1115.4 2050.2 L1126.3 2027.9 L1146.5 2050.2 L1159.5 2072.0 L1164.1 2027.9 L1170.9 2048.9 L1177.6 2027.9 L1181.8 2073.3 L1190.6 2027.9 L1195.3 2048.9 L1199.5 2004.8 L1206.2 2025.8 L1212.9 2004.8 L1219.6 2050.2 L1226.4 2073.3 L1235.2 2096.8 L1255.0 2050.2 L1263.8 2073.3 L1286.1 2096.8 L1305.8 2050.2 L1319.3 2004.8 L1323.9 2027.9 L1339.1 2050.2 L1363.5 2073.3 L1398.8 2096.8 L1398.8 2096.8 Z" fill="#0000ff" stroke="#000050" stroke-width="0.45" stroke-linejoin="miter"/>
<path d="M270.9 1958.0 V2097.8" fill="none" stroke="#000" stroke-width="0.9"/><path d="M258.9 1958.5 H271.35 M258.9 2097.3 H271.35" fill="none" stroke="#262626" stroke-width="1"/>
<text x="251.9" y="1962.0" font-size="12" text-anchor="end">5</text>
<text x="251.9" y="2099.9" font-size="12" text-anchor="end">0</text>
<text x="73" y="2033.8" font-size="23.6">GSM5550305</text>
<path d="M271.6 2250.8 L271.6 2152.5 L274.6 2191.6 L278.8 2210.1 L290.2 2191.6 L301.1 2211.3 L310.4 2250.8 L316.7 2231.1 L325.5 2211.3 L334.3 2231.1 L370.1 2250.8 L410.0 2231.1 L421.0 2250.8 L431.9 2231.1 L458.4 2250.8 L480.7 2231.1 L489.5 2211.3 L498.3 2231.1 L513.9 2250.8 L529.4 2231.1 L538.3 2211.3 L547.1 2231.1 L571.5 2250.8 L600.1 2231.1 L611.0 2250.8 L628.7 2211.3 L640.0 2191.6 L651.0 2228.1 L657.4 2211.3 L664.1 2229.4 L668.7 2211.3 L672.9 2229.4 L688.5 2152.5 L699.4 2210.1 L708.2 2191.6 L717.5 2152.5 L723.8 2191.6 L730.5 2211.3 L735.2 2250.8 L746.1 2211.3 L763.7 2231.1 L797.0 2250.8 L828.1 2231.1 L836.9 2211.3 L854.6 2230.2 L879.0 2211.3 L892.4 2250.8 L905.4 2231.1 L916.4 2250.8 L927.7 2211.3 L958.4 2250.8 L984.9 2231.1 L996.3 2211.3 L1004.7 2191.6 L1011.4 2211.3 L1020.2 2229.4 L1031.6 2211.3 L1053.6 2112.5 L1057.8 2171.4 L1064.5 2191.6 L1073.3 2211.3 L1088.9 2231.1 L1102.3 2250.8 L1106.5 2191.6 L1113.3 2171.4 L1120.0 2190.3 L1124.2 2152.5 L1128.8 2169.3 L1137.7 2132.3 L1141.9 2169.3 L1146.5 2132.3 L1153.2 2191.6 L1159.5 2211.3 L1164.1 2228.1 L1177.6 2191.6 L1181.8 2152.5 L1190.6 2171.4 L1202.0 2210.1 L1208.3 2191.6 L1212.9 2210.1 L1219.6 2229.4 L1230.6 2211.3 L1239.4 2191.6 L1265.9 2229.4 L1277.3 2191.6 L1297.0 2231.1 L1319.3 2250.8 L1339.1 2231.1 L1350.0 2250.8 L1360.9 2231.1 L1396.7 2250.8 L1396.7 2250.8 Z" fill="#0000ff" stroke="#000050" stroke-width="0.45" stroke-linejoin="miter"/>
<path d="M270.9 2112.0 V2251.8" fill="none" stroke="#000" stroke-width="0.9"/><path d="M258.9 2112.5 H271.35 M258.9 2251.3 H271.35" fill="none" stroke="#262626" stroke-width="1"/>
<text x="251.9" y="2116.0" font-size="12" text-anchor="end">7</text>
<text x="251.9" y="2253.9" font-size="12" text-anchor="end">0</text>
<text x="73" y="2187.8" font-size="23.6">GSM5550304</text>
<path d="M275.9 2404.8 L275.9 2377.1 L283.5 2348.5 L296.9 2308.6 L305.7 2333.8 L310.4 2307.3 L314.6 2293.8 L319.2 2266.5 L330.1 2335.9 L339.0 2375.0 L345.7 2363.2 L354.5 2390.6 L363.3 2377.1 L376.8 2335.9 L381.0 2363.2 L394.0 2388.5 L403.3 2363.2 L416.3 2390.6 L421.0 2404.8 L431.9 2391.4 L460.5 2404.8 L485.3 2391.4 L491.6 2377.1 L496.2 2363.2 L505.0 2377.1 L518.1 2390.6 L529.4 2404.8 L547.1 2391.4 L562.7 2377.1 L584.5 2349.3 L593.3 2363.2 L602.2 2388.5 L608.9 2377.1 L617.7 2390.6 L651.0 2404.8 L686.4 2391.4 L693.1 2377.1 L699.4 2349.3 L706.1 2335.9 L715.0 2322.0 L721.7 2347.7 L728.4 2335.9 L737.3 2349.3 L744.0 2377.1 L748.2 2391.4 L761.6 2404.8 L774.7 2391.4 L781.4 2377.1 L788.1 2349.3 L792.3 2363.2 L805.8 2388.5 L810.4 2363.2 L819.2 2335.9 L832.3 2377.1 L845.7 2404.8 L872.2 2377.1 L881.1 2322.0 L885.7 2308.6 L889.9 2317.8 L894.5 2293.8 L903.3 2346.4 L907.5 2322.0 L916.4 2377.1 L925.2 2404.8 L943.3 2377.1 L949.6 2389.7 L958.4 2363.2 L971.9 2335.9 L980.7 2349.3 L987.4 2363.2 L991.6 2375.0 L996.3 2363.2 L1002.6 2375.8 L1009.3 2363.2 L1018.1 2377.1 L1027.0 2404.8 L1037.9 2391.4 L1048.9 2404.8 L1060.3 2391.4 L1071.2 2404.8 L1084.7 2377.1 L1088.9 2363.2 L1102.3 2391.4 L1106.5 2404.8 L1120.0 2363.2 L1126.3 2349.3 L1135.6 2365.3 L1137.7 2375.8 L1146.5 2363.2 L1157.4 2349.3 L1170.9 2335.9 L1186.4 2349.3 L1199.5 2363.2 L1212.9 2349.3 L1221.7 2322.0 L1226.4 2333.8 L1232.7 2322.0 L1241.9 2335.9 L1248.2 2362.0 L1255.0 2349.3 L1261.7 2362.0 L1265.9 2335.9 L1270.5 2361.1 L1274.7 2349.3 L1283.6 2335.9 L1297.0 2347.7 L1305.8 2322.0 L1312.6 2335.9 L1334.9 2363.2 L1341.2 2388.5 L1345.8 2377.1 L1350.0 2349.3 L1356.7 2335.9 L1363.5 2375.0 L1367.7 2363.2 L1385.7 2391.4 L1392.0 2404.8 L1410.1 2391.4 L1423.2 2377.9 L1423.2 2404.8 Z" fill="#0000ff" stroke="#000050" stroke-width="0.45" stroke-linejoin="miter"/>
<path d="M270.9 2266.0 V2405.8" fill="none" stroke="#000" stroke-width="0.9"/><path d="M258.9 2266.5 H271.35 M258.9 2405.3 H271.35" fill="none" stroke="#262626" stroke-width="1"/>
<text x="251.9" y="2270.0" font-size="12" text-anchor="end">6</text>
<text x="251.9" y="2407.9" font-size="12" text-anchor="end">0</text>
<text x="73" y="2341.8" font-size="23.6">GSM5550303</text>
<path d="M271.6 2558.8 L271.6 2489.9 L274.6 2472.2 L278.8 2489.9 L283.5 2524.4 L288.1 2541.6 L296.9 2558.8 L314.6 2541.6 L330.1 2524.4 L336.9 2506.7 L349.9 2524.4 L374.3 2541.6 L389.8 2558.8 L403.3 2524.4 L407.5 2506.7 L412.1 2522.7 L418.8 2506.7 L425.2 2522.7 L429.8 2506.7 L438.6 2540.3 L447.4 2524.4 L458.4 2506.7 L465.1 2522.7 L471.8 2506.7 L482.8 2522.7 L500.4 2489.9 L509.7 2522.7 L516.4 2506.7 L542.5 2558.8 L560.1 2541.6 L575.7 2524.4 L593.3 2506.7 L602.2 2489.9 L606.8 2506.7 L613.5 2524.4 L619.8 2558.8 L633.3 2524.4 L651.0 2506.7 L670.8 2524.4 L677.5 2540.3 L684.3 2506.7 L690.6 2522.7 L695.2 2506.7 L706.1 2540.3 L717.5 2524.4 L723.8 2506.7 L735.2 2455.0 L739.8 2471.0 L744.0 2420.5 L748.2 2472.2 L759.1 2506.7 L772.6 2541.6 L803.7 2558.8 L828.1 2524.4 L836.9 2489.9 L841.1 2521.4 L847.8 2506.7 L856.7 2540.3 L863.4 2524.4 L868.0 2489.9 L872.2 2472.2 L879.0 2455.0 L887.8 2471.0 L894.5 2455.0 L907.5 2504.6 L912.2 2472.2 L916.4 2455.0 L923.1 2437.8 L929.8 2506.7 L934.0 2524.4 L943.3 2541.6 L953.8 2558.8 L965.2 2541.6 L974.0 2524.4 L980.7 2540.3 L987.4 2506.7 L996.3 2524.4 L1011.4 2541.6 L1027.0 2558.8 L1060.3 2541.6 L1071.2 2558.8 L1088.9 2524.4 L1106.5 2558.8 L1120.0 2524.4 L1124.2 2506.7 L1135.6 2541.6 L1146.5 2558.8 L1157.4 2541.6 L1166.2 2524.4 L1183.9 2558.8 L1197.4 2524.4 L1215.0 2558.8 L1228.5 2541.6 L1237.3 2524.4 L1255.0 2558.8 L1268.4 2524.4 L1281.5 2558.8 L1290.3 2541.6 L1297.0 2524.4 L1301.6 2506.7 L1310.5 2524.4 L1323.9 2541.6 L1334.9 2558.8 L1350.0 2519.3 L1354.6 2506.7 L1363.5 2539.5 L1367.7 2524.4 L1372.3 2540.3 L1383.2 2524.4 L1394.6 2540.3 L1398.8 2524.4 L1403.0 2539.5 L1409.7 2524.4 L1419.0 2541.6 L1423.2 2557.2 L1423.2 2558.8 Z" fill="#0000ff" stroke="#000050" stroke-width="0.45" stroke-linejoin="miter"/>
<path d="M270.9 2420.0 V2559.8" fill="none" stroke="#000" stroke-width="0.9"/><path d="M258.9 2420.5 H271.35 M258.9 2559.3 H271.35" fill="none" stroke="#262626" stroke-width="1"/>
<text x="251.9" y="2424.0" font-size="12" text-anchor="end">6</text>
<text x="251.9" y="2561.9" font-size="12" text-anchor="end">0</text>
<text x="73" y="2495.8" font-size="23.6">GSM5550302</text>
<path d="M273.8 2712.8 L273.8 2693.1 L283.5 2712.8 L292.3 2693.1 L296.9 2673.3 L301.1 2633.4 L312.5 2613.6 L323.4 2633.4 L332.2 2673.3 L339.0 2691.4 L345.7 2673.3 L349.9 2653.6 L356.6 2673.3 L365.4 2691.4 L376.8 2673.3 L385.6 2693.1 L389.8 2712.8 L398.7 2673.3 L438.6 2712.8 L473.9 2693.1 L478.6 2673.3 L487.4 2653.6 L496.2 2673.3 L502.9 2693.1 L518.5 2712.8 L531.5 2693.1 L542.5 2673.3 L555.9 2691.4 L562.7 2673.3 L571.5 2693.1 L617.7 2712.8 L664.1 2693.1 L677.5 2673.3 L686.4 2633.4 L699.4 2594.3 L704.0 2633.4 L710.8 2673.3 L717.5 2691.4 L728.4 2673.3 L739.8 2691.4 L761.6 2653.6 L767.9 2671.2 L774.7 2653.6 L779.3 2691.4 L788.1 2653.6 L797.0 2673.3 L810.4 2693.1 L825.6 2712.8 L836.9 2693.1 L845.7 2673.3 L854.6 2690.1 L863.4 2653.6 L870.1 2634.2 L876.9 2673.3 L883.2 2690.1 L894.5 2673.3 L912.2 2712.8 L927.7 2693.1 L938.7 2712.8 L942.9 2673.3 L951.7 2653.6 L967.3 2673.3 L976.1 2690.1 L987.4 2712.8 L1004.7 2673.3 L1013.9 2693.1 L1029.1 2712.8 L1057.8 2693.1 L1075.8 2673.3 L1082.2 2691.4 L1088.9 2653.6 L1095.6 2671.2 L1102.3 2653.6 L1106.5 2671.2 L1115.4 2634.2 L1141.9 2673.3 L1146.5 2693.1 L1150.7 2712.8 L1155.3 2673.3 L1164.1 2634.2 L1183.9 2712.8 L1197.4 2693.1 L1206.2 2633.4 L1215.0 2594.3 L1221.7 2611.1 L1226.4 2574.5 L1235.2 2634.2 L1244.0 2693.1 L1263.8 2712.8 L1288.2 2693.1 L1297.0 2673.3 L1301.6 2690.1 L1312.6 2673.3 L1326.0 2693.1 L1352.5 2712.8 L1383.2 2693.1 L1394.6 2712.8 L1405.5 2693.1 L1416.4 2712.8 L1421.1 2693.1 L1423.2 2673.3 L1423.2 2712.8 Z" fill="#0000ff" stroke="#000050" stroke-width="0.45" stroke-linejoin="miter"/>
<path d="M270.9 2574.0 V2713.8" fill="none" stroke="#000" stroke-width="0.9"/><path d="M258.9 2574.5 H271.35 M258.9 2713.3 H271.35" fill="none" stroke="#262626" stroke-width="1"/>
<text x="251.9" y="2578.0" font-size="12" text-anchor="end">5</text>
<text x="251.9" y="2715.9" font-size="12" text-anchor="end">0</text>
<text x="73" y="2649.8" font-size="23.6">GSM5550301</text>
<path d="M271.6 2866.8 L271.6 2827.3 L274.6 2844.1 L283.5 2807.6 L292.3 2827.3 L303.6 2845.4 L310.4 2827.3 L314.6 2845.4 L321.3 2827.3 L339.0 2847.1 L359.1 2866.8 L374.3 2827.3 L385.6 2866.8 L391.9 2847.1 L400.8 2827.3 L410.0 2847.1 L434.0 2866.8 L460.5 2847.1 L469.7 2827.3 L478.6 2847.1 L520.6 2866.8 L558.0 2847.1 L566.9 2827.3 L575.7 2847.1 L589.1 2866.8 L608.9 2847.1 L619.8 2866.8 L631.2 2847.1 L646.7 2866.8 L657.4 2827.3 L670.8 2807.6 L681.8 2825.2 L686.4 2807.6 L690.6 2844.1 L697.3 2827.3 L704.0 2844.1 L708.2 2807.6 L715.0 2825.2 L721.7 2807.6 L737.3 2826.1 L752.8 2788.2 L759.1 2805.0 L765.8 2788.2 L772.6 2825.2 L783.5 2807.6 L792.3 2788.2 L797.0 2827.3 L801.2 2843.3 L805.8 2827.3 L810.4 2844.1 L814.6 2787.4 L819.2 2748.3 L823.5 2764.3 L828.1 2728.5 L832.3 2767.6 L839.0 2807.6 L845.7 2827.3 L856.7 2845.4 L870.1 2827.3 L876.9 2748.3 L894.5 2785.3 L898.7 2768.5 L905.4 2787.4 L912.2 2847.1 L945.4 2866.8 L982.8 2847.1 L998.4 2827.3 L1009.3 2847.1 L1013.9 2866.8 L1020.2 2847.1 L1027.0 2807.6 L1040.1 2768.5 L1053.6 2826.1 L1057.8 2807.6 L1064.5 2827.3 L1071.2 2866.8 L1080.0 2847.1 L1093.5 2827.3 L1106.5 2768.5 L1113.3 2787.4 L1120.0 2827.3 L1124.2 2866.8 L1128.8 2847.1 L1141.9 2807.6 L1146.5 2827.3 L1179.7 2866.8 L1192.7 2847.1 L1204.1 2866.8 L1221.7 2827.3 L1230.6 2847.1 L1263.8 2866.8 L1297.0 2847.1 L1312.6 2807.6 L1323.9 2847.1 L1354.6 2866.8 L1387.8 2847.1 L1396.7 2827.3 L1405.5 2847.1 L1416.4 2866.8 L1416.4 2866.8 Z" fill="#0000ff" stroke="#000050" stroke-width="0.45" stroke-linejoin="miter"/>
<path d="M270.9 2728.0 V2867.8" fill="none" stroke="#000" stroke-width="0.9"/><path d="M258.9 2728.5 H271.35 M258.9 2867.3 H271.35" fill="none" stroke="#262626" stroke-width="1"/>
<text x="251.9" y="2732.0" font-size="12" text-anchor="end">5</text>
<text x="251.9" y="2869.9" font-size="12" text-anchor="end">0</text>
<text x="73" y="2803.8" font-size="23.6">GSM5550300</text>
<path d="M278.4 3020.8 L278.4 3020.8 L288.1 2989.7 L294.4 2974.2 L301.1 2943.5 L305.7 2928.8 L310.4 2941.4 L314.6 2882.5 L319.2 2898.1 L323.4 2939.3 L328.0 2913.2 L332.2 2943.5 L341.1 2959.0 L352.4 2987.6 L358.7 2974.2 L365.4 3003.6 L372.2 2989.7 L376.8 3003.6 L385.6 2974.2 L394.5 2989.7 L407.5 3005.3 L436.5 3020.8 L460.5 3005.3 L473.9 2974.2 L482.8 3003.6 L487.4 2974.2 L494.1 2988.9 L500.4 2974.2 L524.8 3005.3 L540.4 2989.7 L553.8 3004.5 L560.1 2989.7 L571.5 3005.3 L582.4 2989.7 L589.1 2974.2 L598.0 3003.6 L602.2 2989.7 L606.8 3004.5 L613.5 2989.7 L624.5 3004.5 L635.4 2989.7 L642.1 2959.0 L651.0 2988.9 L656.1 2974.2 L664.1 3005.3 L686.4 3020.8 L704.0 3005.3 L717.5 2974.2 L726.3 2959.0 L735.2 2928.8 L741.9 2957.4 L748.2 2943.5 L754.9 2989.7 L772.6 3005.3 L790.2 3020.8 L801.2 3005.3 L810.4 2989.7 L819.2 3004.5 L830.2 2989.7 L843.6 3020.8 L858.8 3005.3 L872.2 2989.7 L879.0 2974.2 L887.8 2988.9 L900.8 2974.2 L912.2 2988.9 L918.9 2974.2 L931.9 3004.5 L942.9 2989.7 L951.7 3005.3 L963.1 3020.8 L976.1 3005.3 L982.8 2989.7 L993.7 2974.2 L1004.7 2989.7 L1020.2 3005.3 L1044.7 3020.8 L1067.0 3005.3 L1082.2 2989.7 L1088.9 2974.2 L1097.7 2983.4 L1120.0 3007.4 L1130.9 3020.8 L1141.9 3005.3 L1148.6 2989.7 L1155.3 2959.0 L1159.5 2943.5 L1164.1 2956.1 L1168.3 2943.5 L1173.0 2959.0 L1190.6 2989.7 L1232.7 3005.3 L1261.7 3020.8 L1277.3 3005.3 L1297.0 3020.8 L1317.2 3005.3 L1328.1 2989.7 L1337.0 2974.2 L1350.0 3020.8 L1354.6 2989.7 L1360.9 2974.2 L1367.7 2987.6 L1372.3 2974.2 L1381.1 2988.9 L1394.6 2959.0 L1403.4 2974.2 L1407.6 3020.8 L1414.3 3008.7 L1416.4 3005.3 L1416.4 3020.8 Z" fill="#0000ff" stroke="#000050" stroke-width="0.45" stroke-linejoin="miter"/>
<path d="M270.9 2882.0 V3021.8" fill="none" stroke="#000" stroke-width="0.9"/><path d="M258.9 2882.5 H271.35 M258.9 3021.3 H271.35" fill="none" stroke="#262626" stroke-width="1"/>
<text x="251.9" y="2886.0" font-size="12" text-anchor="end">7</text>
<text x="251.9" y="3023.9" font-size="12" text-anchor="end">0</text>
<text x="73" y="2957.8" font-size="23.6">GSM5550299</text>
<path d="M271.6 3174.8 L271.6 3156.3 L274.6 3145.0 L278.8 3153.4 L283.5 3145.0 L288.1 3125.7 L292.3 3134.1 L296.9 3115.6 L305.7 3134.1 L310.4 3105.9 L314.6 3124.8 L321.3 3115.6 L328.0 3124.8 L332.2 3115.6 L341.1 3134.1 L349.9 3125.7 L356.6 3105.9 L363.3 3115.6 L370.1 3134.1 L376.8 3115.6 L387.7 3105.9 L400.8 3115.6 L407.5 3125.7 L421.0 3145.0 L434.0 3135.3 L445.3 3105.9 L456.3 3124.0 L465.1 3115.6 L476.0 3124.8 L482.8 3105.9 L487.4 3114.3 L491.6 3096.2 L496.2 3115.6 L509.7 3143.7 L527.3 3105.9 L533.6 3125.7 L542.5 3134.1 L549.2 3115.6 L553.8 3123.6 L558.0 3096.2 L562.7 3103.8 L566.9 3085.7 L571.5 3096.2 L584.5 3134.1 L589.1 3125.7 L598.0 3115.6 L606.8 3125.7 L611.0 3143.7 L615.6 3135.3 L619.8 3153.4 L628.7 3135.3 L633.3 3153.4 L640.0 3145.0 L648.9 3153.4 L656.1 3145.0 L662.0 3154.2 L668.7 3145.0 L672.9 3162.7 L677.5 3135.3 L681.8 3125.7 L690.6 3056.3 L695.2 3063.8 L699.4 3056.3 L704.0 3075.6 L708.7 3105.9 L712.9 3115.6 L721.7 3126.9 L730.5 3137.4 L735.2 3145.0 L739.8 3163.9 L744.0 3145.0 L748.2 3153.4 L752.8 3145.0 L763.7 3135.3 L774.7 3115.6 L781.4 3123.6 L788.1 3096.2 L794.9 3114.3 L801.2 3105.9 L805.8 3135.3 L810.4 3143.7 L814.6 3135.3 L823.5 3143.7 L832.3 3135.3 L836.9 3125.7 L841.1 3134.1 L845.7 3125.7 L852.5 3152.1 L863.4 3115.6 L872.2 3105.9 L881.1 3123.6 L889.9 3105.9 L896.6 3122.7 L903.3 3096.2 L907.5 3113.0 L912.2 3105.9 L916.4 3115.6 L923.1 3152.1 L931.9 3135.3 L938.7 3125.7 L942.9 3115.6 L947.5 3133.2 L956.3 3115.6 L960.5 3085.7 L965.2 3094.1 L969.4 3085.7 L974.0 3105.9 L978.2 3131.1 L982.8 3085.7 L987.4 3093.3 L993.7 3085.7 L998.4 3110.1 L1002.6 3135.3 L1013.9 3145.0 L1022.8 3154.2 L1035.8 3134.1 L1048.9 3115.6 L1053.6 3105.9 L1060.3 3056.3 L1067.0 3076.5 L1071.2 3085.7 L1075.8 3125.7 L1080.0 3143.7 L1084.7 3135.3 L1088.9 3143.7 L1093.5 3134.1 L1097.7 3115.6 L1102.3 3123.6 L1111.2 3105.9 L1115.4 3114.3 L1120.0 3105.9 L1124.2 3133.2 L1128.8 3105.9 L1141.9 3065.9 L1146.5 3105.9 L1150.7 3114.3 L1157.4 3096.2 L1164.1 3065.9 L1168.3 3056.3 L1173.0 3036.5 L1177.6 3061.7 L1181.8 3046.2 L1186.4 3056.3 L1192.7 3085.7 L1199.5 3105.9 L1206.2 3114.3 L1217.5 3105.9 L1226.4 3125.7 L1230.6 3145.0 L1244.0 3154.2 L1257.1 3145.0 L1265.9 3105.9 L1274.7 3125.7 L1279.4 3143.7 L1283.6 3135.3 L1297.0 3115.6 L1301.6 3145.0 L1310.5 3163.9 L1319.3 3174.8 L1326.0 3166.9 L1334.9 3154.2 L1339.1 3143.7 L1345.8 3115.6 L1354.6 3096.2 L1376.5 3145.0 L1383.2 3162.7 L1387.8 3157.6 L1394.6 3145.0 L1403.0 3105.9 L1409.7 3096.2 L1416.4 3114.3 L1421.1 3134.1 L1421.1 3174.8 Z" fill="#0000ff" stroke="#000050" stroke-width="0.45" stroke-linejoin="miter"/>
<path d="M270.9 3036.0 V3175.8" fill="none" stroke="#000" stroke-width="0.9"/><path d="M258.9 3036.5 H271.35 M258.9 3175.3 H271.35" fill="none" stroke="#262626" stroke-width="1"/>
<text x="251.9" y="3040.0" font-size="12" text-anchor="end">4</text>
<text x="251.9" y="3177.9" font-size="12" text-anchor="end">0</text>
<text x="73" y="3111.8" font-size="23.6">GSM5550298</text>
<path d="M300.3 3328.8 L300.3 3328.8 L336.9 3294.4 L345.7 3259.9 L349.9 3291.4 L356.6 3259.9 L368.0 3292.7 L383.1 3225.0 L398.7 3190.5 L407.5 3225.0 L416.3 3328.8 L440.7 3294.4 L516.4 3328.8 L577.8 3294.4 L595.9 3259.9 L622.4 3294.4 L637.9 3328.8 L653.1 3294.4 L679.6 3259.9 L697.3 3294.4 L710.8 3328.8 L737.3 3294.4 L772.6 3328.8 L799.1 3294.4 L812.5 3328.8 L819.2 3294.4 L830.2 3259.9 L845.7 3294.4 L856.7 3328.8 L874.3 3259.9 L881.1 3292.7 L885.7 3225.0 L894.5 3259.9 L931.9 3328.8 L967.3 3294.4 L980.7 3259.9 L993.7 3294.4 L1004.7 3328.8 L1040.1 3259.9 L1048.9 3294.4 L1097.7 3328.8 L1148.6 3294.4 L1157.4 3259.9 L1166.2 3294.4 L1204.1 3328.8 L1244.0 3259.9 L1252.9 3225.0 L1261.7 3259.9 L1277.3 3292.7 L1288.2 3259.9 L1297.0 3294.4 L1347.9 3328.8 L1400.9 3294.4 L1412.2 3328.8 L1419.0 3294.4 L1419.0 3328.8 Z" fill="#0000ff" stroke="#000050" stroke-width="0.45" stroke-linejoin="miter"/>
<path d="M270.9 3190.0 V3329.8" fill="none" stroke="#000" stroke-width="0.9"/><path d="M258.9 3190.5 H271.35 M258.9 3329.3 H271.35" fill="none" stroke="#262626" stroke-width="1"/>
<text x="251.9" y="3194.0" font-size="12" text-anchor="end">6</text>
<text x="251.9" y="3331.9" font-size="12" text-anchor="end">0</text>
<text x="73" y="3265.8" font-size="23.6">GSM5550297</text>
<path d="M271.6 3482.8 L271.6 3405.5 L274.6 3395.0 L278.8 3367.6 L283.5 3344.5 L288.1 3369.7 L292.3 3352.1 L296.9 3382.4 L305.7 3405.5 L314.6 3383.2 L319.2 3397.1 L323.4 3405.5 L328.0 3430.7 L332.2 3460.1 L336.9 3428.6 L341.1 3444.2 L345.7 3451.7 L349.9 3436.2 L354.5 3459.3 L359.1 3451.7 L363.3 3436.2 L368.0 3413.9 L372.2 3398.3 L376.8 3390.8 L381.0 3398.3 L387.7 3436.2 L394.5 3451.7 L400.8 3459.3 L407.5 3451.7 L416.3 3421.0 L429.8 3406.3 L438.6 3436.2 L442.8 3444.2 L449.5 3459.3 L456.3 3467.3 L460.5 3444.2 L469.3 3428.6 L473.9 3398.3 L482.8 3411.8 L496.2 3383.2 L500.4 3398.3 L505.0 3421.0 L509.7 3436.2 L513.9 3459.3 L518.1 3451.7 L522.7 3421.0 L527.3 3434.9 L533.6 3428.6 L540.4 3443.3 L553.8 3428.6 L566.9 3459.3 L577.8 3436.2 L584.5 3428.6 L589.1 3444.2 L595.9 3459.3 L606.8 3451.7 L615.6 3444.2 L622.4 3428.6 L635.4 3413.9 L642.1 3420.2 L646.7 3413.9 L651.0 3420.2 L657.4 3413.9 L664.1 3428.6 L668.7 3436.2 L672.9 3474.0 L686.4 3459.3 L690.6 3451.7 L697.3 3459.3 L704.0 3451.7 L708.7 3458.0 L715.0 3447.5 L723.8 3428.6 L735.2 3459.3 L739.8 3466.5 L744.0 3436.2 L748.2 3421.0 L757.0 3406.3 L763.7 3413.1 L770.5 3406.3 L774.7 3413.9 L779.3 3428.6 L788.1 3421.0 L801.2 3436.2 L805.8 3443.3 L810.4 3428.6 L814.6 3436.2 L823.5 3455.9 L830.2 3474.0 L839.0 3467.3 L845.7 3436.2 L849.9 3421.0 L854.6 3413.9 L858.8 3398.3 L863.4 3427.3 L870.1 3413.9 L879.0 3436.2 L885.7 3443.3 L889.9 3450.9 L898.7 3421.0 L903.3 3434.9 L907.5 3428.6 L914.3 3436.2 L923.1 3444.2 L929.8 3436.2 L934.0 3443.3 L938.7 3428.6 L945.0 3418.1 L949.6 3406.3 L956.3 3427.3 L960.5 3421.0 L965.2 3436.2 L982.8 3451.7 L987.4 3444.2 L991.6 3428.6 L998.4 3436.2 L1004.7 3428.6 L1011.4 3436.2 L1024.9 3421.0 L1033.7 3426.5 L1042.6 3436.2 L1053.6 3413.9 L1062.4 3422.3 L1069.1 3428.6 L1075.8 3406.3 L1082.2 3422.3 L1084.7 3427.3 L1088.9 3421.0 L1093.5 3398.3 L1097.7 3390.8 L1102.3 3375.2 L1106.5 3405.5 L1111.2 3427.3 L1117.9 3398.3 L1124.2 3405.5 L1128.8 3421.0 L1133.0 3428.6 L1137.7 3442.1 L1144.4 3421.0 L1153.2 3406.3 L1164.1 3428.6 L1168.3 3444.2 L1173.0 3451.7 L1179.7 3459.3 L1195.3 3406.3 L1202.0 3412.6 L1208.3 3390.8 L1212.9 3413.9 L1221.7 3444.2 L1232.7 3459.3 L1248.2 3467.3 L1259.6 3474.9 L1265.9 3467.3 L1286.1 3449.6 L1290.3 3444.2 L1297.0 3428.6 L1305.8 3443.3 L1310.5 3428.6 L1316.8 3413.9 L1323.9 3427.3 L1328.1 3421.0 L1332.3 3450.9 L1337.0 3444.2 L1341.2 3428.6 L1345.8 3443.3 L1350.0 3436.2 L1354.6 3451.7 L1358.8 3459.3 L1363.5 3444.2 L1367.7 3436.2 L1372.3 3413.9 L1381.1 3428.6 L1389.9 3459.3 L1394.6 3466.5 L1398.8 3451.7 L1403.0 3444.2 L1407.6 3428.6 L1412.2 3421.0 L1416.4 3430.7 L1421.1 3443.3 L1423.2 3451.7 L1423.2 3482.8 Z" fill="#0000ff" stroke="#000050" stroke-width="0.45" stroke-linejoin="miter"/>
<path d="M270.9 3344.0 V3483.8" fill="none" stroke="#000" stroke-width="0.9"/><path d="M258.9 3344.5 H271.35 M258.9 3483.3 H271.35" fill="none" stroke="#262626" stroke-width="1"/>
<text x="251.9" y="3348.0" font-size="12" text-anchor="end">6</text>
<text x="251.9" y="3485.9" font-size="12" text-anchor="end">0</text>
<text x="73" y="3419.8" font-size="23.6">GSM5550296</text>
<path d="M278.4 3636.8 L278.4 3636.8 L294.4 3621.3 L305.7 3636.8 L316.7 3621.3 L328.0 3636.8 L336.9 3605.7 L345.7 3590.2 L354.5 3604.9 L361.2 3590.2 L370.1 3605.7 L378.9 3636.8 L391.9 3605.7 L407.5 3590.2 L416.3 3575.0 L425.2 3621.3 L436.5 3636.8 L442.8 3621.3 L447.4 3605.7 L456.3 3590.2 L465.1 3604.9 L471.8 3590.2 L480.7 3605.7 L496.2 3636.8 L511.8 3621.3 L524.8 3605.7 L535.7 3619.6 L540.4 3590.2 L549.2 3605.7 L560.1 3636.8 L573.6 3621.3 L584.5 3636.8 L589.1 3621.3 L595.9 3605.7 L604.3 3575.0 L611.0 3588.9 L615.6 3575.0 L619.8 3605.7 L624.5 3619.6 L628.7 3605.7 L633.3 3619.6 L640.0 3605.7 L657.4 3636.8 L666.2 3624.7 L677.5 3605.7 L690.6 3621.3 L704.0 3605.7 L708.2 3590.2 L712.9 3604.9 L719.6 3575.0 L728.4 3590.2 L735.2 3604.9 L739.8 3590.2 L744.0 3559.5 L748.2 3544.8 L752.8 3514.1 L757.0 3527.9 L761.6 3514.1 L765.8 3529.2 L772.6 3575.0 L781.4 3620.5 L788.1 3605.7 L794.9 3620.5 L801.2 3590.2 L805.8 3604.9 L814.6 3575.0 L819.2 3603.6 L823.5 3559.5 L828.1 3572.1 L834.4 3514.1 L841.1 3555.3 L845.7 3529.2 L849.9 3572.1 L858.8 3544.8 L868.0 3605.7 L874.3 3590.2 L887.8 3575.0 L900.8 3590.2 L907.5 3605.7 L921.0 3575.0 L925.2 3590.2 L929.8 3620.5 L942.9 3605.7 L956.3 3621.3 L960.5 3605.7 L974.0 3575.0 L978.2 3588.9 L989.5 3575.0 L1000.5 3590.2 L1004.7 3605.7 L1011.4 3621.3 L1022.8 3636.8 L1033.7 3621.3 L1040.1 3590.6 L1044.7 3575.0 L1048.9 3588.9 L1053.6 3559.5 L1057.8 3574.2 L1064.5 3559.5 L1071.2 3575.0 L1075.8 3590.2 L1082.2 3621.3 L1095.6 3636.8 L1106.5 3575.0 L1120.0 3529.2 L1128.8 3559.5 L1137.7 3575.0 L1150.7 3619.6 L1157.4 3559.5 L1164.1 3529.2 L1168.3 3498.5 L1175.1 3559.5 L1181.8 3575.0 L1186.4 3604.9 L1192.7 3590.2 L1206.2 3605.7 L1219.6 3590.2 L1226.4 3605.7 L1235.2 3621.3 L1244.0 3605.7 L1252.9 3575.0 L1261.7 3590.2 L1265.9 3620.5 L1292.4 3590.2 L1301.6 3559.5 L1310.5 3575.0 L1314.7 3602.4 L1319.3 3590.2 L1328.1 3621.3 L1352.5 3636.8 L1385.7 3621.3 L1405.5 3605.7 L1414.3 3590.2 L1421.1 3605.7 L1421.1 3636.8 Z" fill="#0000ff" stroke="#000050" stroke-width="0.45" stroke-linejoin="miter"/>
<path d="M270.9 3498.0 V3637.8" fill="none" stroke="#000" stroke-width="0.9"/><path d="M258.9 3498.5 H271.35 M258.9 3637.3 H271.35" fill="none" stroke="#262626" stroke-width="1"/>
<text x="251.9" y="3502.0" font-size="12" text-anchor="end">9</text>
<text x="251.9" y="3639.9" font-size="12" text-anchor="end">0</text>
<text x="73" y="3573.8" font-size="23.6">GSM5550295</text>
<g stroke="#3c3c3c" stroke-width="1.05" fill="none">
<path d="M271.3 3799.0 H1423.5"/>
<path d="M282.1 3789.5 L291.8 3799.0 L282.1 3808.5"/>
<path d="M319.0 3789.5 L328.7 3799.0 L319.0 3808.5"/>
<path d="M356.0 3789.5 L365.7 3799.0 L356.0 3808.5"/>
<path d="M392.9 3789.5 L402.6 3799.0 L392.9 3808.5"/>
<path d="M429.8 3789.5 L439.5 3799.0 L429.8 3808.5"/>
<path d="M466.8 3789.5 L476.5 3799.0 L466.8 3808.5"/>
<path d="M503.7 3789.5 L513.4 3799.0 L503.7 3808.5"/>
<path d="M540.6 3789.5 L550.3 3799.0 L540.6 3808.5"/>
<path d="M577.5 3789.5 L587.2 3799.0 L577.5 3808.5"/>
<path d="M609.1 3789.5 L618.8 3799.0 L609.1 3808.5"/>
<path d="M646.1 3789.5 L655.8 3799.0 L646.1 3808.5"/>
<path d="M683.1 3789.5 L692.8 3799.0 L683.1 3808.5"/>
<path d="M720.1 3789.5 L729.8 3799.0 L720.1 3808.5"/>
<path d="M757.1 3789.5 L766.8 3799.0 L757.1 3808.5"/>
<path d="M794.1 3789.5 L803.8 3799.0 L794.1 3808.5"/>
<path d="M831.1 3789.5 L840.8 3799.0 L831.1 3808.5"/>
<path d="M868.1 3789.5 L877.8 3799.0 L868.1 3808.5"/>
<path d="M905.1 3789.5 L914.8 3799.0 L905.1 3808.5"/>
<path d="M942.1 3789.5 L951.8 3799.0 L942.1 3808.5"/>
<path d="M979.1 3789.5 L988.8 3799.0 L979.1 3808.5"/>
<path d="M1016.1 3789.5 L1025.8 3799.0 L1016.1 3808.5"/>
<path d="M1062.2 3789.5 L1071.9 3799.0 L1062.2 3808.5"/>
<path d="M1099.2 3789.5 L1108.9 3799.0 L1099.2 3808.5"/>
<path d="M1136.3 3789.5 L1146.0 3799.0 L1136.3 3808.5"/>
<path d="M1173.3 3789.5 L1183.0 3799.0 L1173.3 3808.5"/>
<path d="M1210.3 3789.5 L1220.0 3799.0 L1210.3 3808.5"/>
<path d="M1247.4 3789.5 L1257.1 3799.0 L1247.4 3808.5"/>
<path d="M1284.4 3789.5 L1294.1 3799.0 L1284.4 3808.5"/>
<path d="M1321.4 3789.5 L1331.1 3799.0 L1321.4 3808.5"/>
<path d="M1358.4 3789.5 L1368.1 3799.0 L1358.4 3808.5"/>
<path d="M1395.5 3789.5 L1405.2 3799.0 L1395.5 3808.5"/>
</g>
<rect x="597.9" y="3752.4" width="11" height="93" fill="#000"/>
<rect x="1026.1" y="3775.6" width="12" height="47" fill="#000"/>
<rect x="1036.1" y="3752.4" width="22.6" height="93" fill="#000"/>
<rect x="1408.2" y="3752.4" width="15.5" height="93" fill="#000"/>
<g stroke="#3a3a3a" stroke-width="1.0" fill="none">
<path d="M271.3 3901.4 H1423.5 M271.3 3957.4 H1423.5"/>
<path d="M329.8 3957.4 V3986"/>
<path d="M506.8 3957.4 V3986"/>
<path d="M683.8 3957.4 V3986"/>
<path d="M860.8 3957.4 V3986"/>
<path d="M1037.8 3957.4 V3986"/>
<path d="M1214.8 3957.4 V3986"/>
<path d="M1391.8 3957.4 V3986"/>
<path d="M1037.8 3957.4 V4030" stroke="#555"/>
</g>
<text x="74.4" y="3946.6" font-size="48.8">chr18</text>
<text x="1038.2" y="4046.5" font-size="24" text-anchor="middle">61.55Mb</text>
</svg></body></html>
